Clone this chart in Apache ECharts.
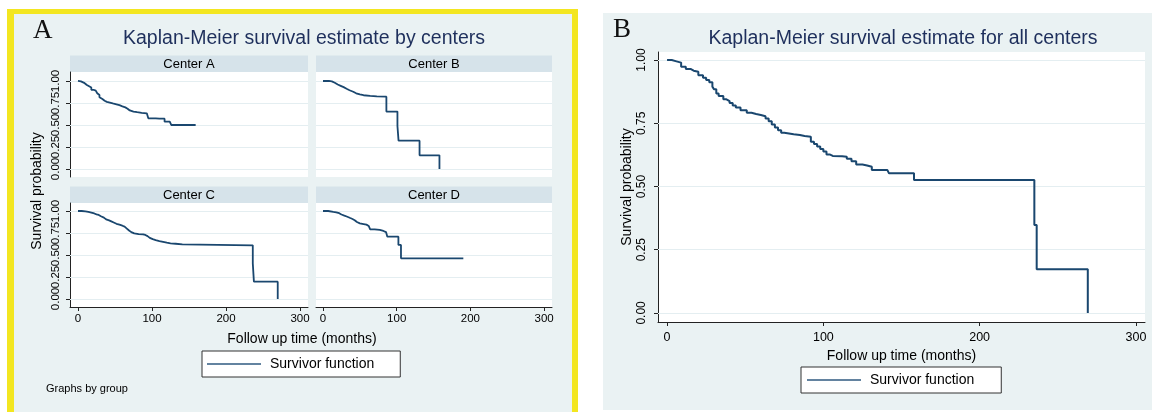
<!DOCTYPE html>
<html>
<head>
<meta charset="utf-8">
<title>Kaplan-Meier survival estimates</title>
<script src="https://cdn.jsdelivr.net/npm/echarts@6/dist/echarts.min.js"></script>
<style>
  html, body { margin: 0; padding: 0; background: #fff; }
  #chart { width: 1152px; height: 412px; }
</style>
</head>
<body>
<div id="chart"></div>
<script>
const centerNames = ['Center A', 'Center B', 'Center C', 'Center D']
const xTicks = [0, 100, 200, 300]
const yTicks = [0, 0.25, 0.5, 0.75, 1]

// survival estimates (time in months, S(t) after the step)
const timeA = [0, 2, 4, 6, 9, 12, 15, 18, 21, 24, 26, 27, 29, 31, 33, 36, 39, 43, 47, 52, 56, 60, 64, 67, 70, 75, 80, 86, 93, 95, 105, 110, 117, 124, 126, 159]
const survA = [1.0, 0.995, 0.985, 0.975, 0.955, 0.94, 0.925, 0.9, 0.89, 0.875, 0.86, 0.84, 0.815, 0.795, 0.775, 0.762, 0.754, 0.745, 0.735, 0.725, 0.712, 0.7, 0.685, 0.665, 0.652, 0.645, 0.638, 0.633, 0.63, 0.576, 0.573, 0.572, 0.538, 0.53, 0.5, 0.5]

const timeB = [0, 8, 12, 16, 20, 24, 28, 32, 36, 41, 45, 50, 55, 64, 73, 86, 101, 102.5, 131, 158]
const survB = [1.0, 0.995, 0.98, 0.96, 0.945, 0.93, 0.912, 0.895, 0.878, 0.86, 0.848, 0.838, 0.83, 0.825, 0.822, 0.652, 0.489, 0.322, 0.155, 0.0]

const timeC = [0, 5, 10, 14, 18, 22, 25, 28, 31, 35, 38, 42, 45, 49, 52, 56, 60, 63, 66, 69, 72, 76, 82, 88, 91, 94, 97, 101, 105, 110, 115, 120, 125, 132, 141, 236.2, 237.7, 269.9]
const survC = [1.0, 0.996, 0.99, 0.982, 0.972, 0.962, 0.955, 0.94, 0.925, 0.905, 0.893, 0.882, 0.867, 0.855, 0.845, 0.833, 0.822, 0.8, 0.778, 0.76, 0.745, 0.738, 0.735, 0.728, 0.715, 0.695, 0.68, 0.67, 0.659, 0.65, 0.64, 0.633, 0.628, 0.62, 0.61, 0.405, 0.197, 0.0]

const timeD = [0, 7, 14, 18, 22, 25, 29, 33, 37, 40, 43, 46, 50, 55, 59, 62, 64, 70, 77, 82, 85.5, 87.3, 102.3, 105.8, 190.4]
const survD = [1.0, 0.99, 0.985, 0.975, 0.96, 0.947, 0.935, 0.92, 0.909, 0.895, 0.875, 0.86, 0.852, 0.845, 0.83, 0.81, 0.792, 0.785, 0.773, 0.76, 0.746, 0.708, 0.614, 0.462, 0.462]

const timeAll = [0, 3, 6, 9, 12, 15, 17, 20, 23, 25, 27, 29, 30, 31.5, 33, 36, 38, 40, 42, 44, 47, 51, 54, 57, 60, 63, 65, 67, 69, 71, 73, 75, 78, 81, 85, 88, 92, 94, 96, 98, 100, 102, 104, 106, 112, 115, 118, 121, 125, 128, 131, 141, 142, 158, 235, 236.5, 269.2]
const survAll = [1.0, 0.995, 0.99, 0.974, 0.965, 0.958, 0.954, 0.94, 0.93, 0.921, 0.912, 0.895, 0.885, 0.868, 0.858, 0.845, 0.838, 0.83, 0.82, 0.812, 0.802, 0.792, 0.787, 0.783, 0.778, 0.769, 0.758, 0.745, 0.733, 0.722, 0.713, 0.71, 0.707, 0.704, 0.7, 0.697, 0.677, 0.668, 0.658, 0.648, 0.638, 0.627, 0.621, 0.62, 0.618, 0.61, 0.6, 0.587, 0.583, 0.578, 0.565, 0.563, 0.552, 0.526, 0.348, 0.173, 0.0]

const FONT = "'Liberation Sans', Arial, sans-serif"
const SERIF = "'Liberation Serif', 'Times New Roman', serif"
const NAVY = '#1a476f'
const TITLE = '#1e2f5c'
const BG = '#eaf2f3'
const BAND = '#d6e3ea'
const GRIDLINE = '#e4eef1'
const AXIS = '#222'

const pairs = (t, s) => t.map((v, i) => [v, s[i]])
const curves = [pairs(timeA, survA), pairs(timeB, survB), pairs(timeC, survC), pairs(timeD, survD), pairs(timeAll, survAll)]

// panel layout: four small multiples in A, one large plot in B
const panels = [
  { left: 70, top: 72, width: 238, height: 105, xMin: -10.8, xMax: 310.8, yMin: -0.091, yMax: 1.102, showX: false, showY: true },
  { left: 316, top: 72, width: 236, height: 105, xMin: -9.5, xMax: 310.7, yMin: -0.091, yMax: 1.102, showX: false, showY: false },
  { left: 70, top: 203, width: 238, height: 104, xMin: -10.8, xMax: 310.8, yMin: -0.091, yMax: 1.091, showX: true, showY: true },
  { left: 316, top: 203, width: 236, height: 104, xMin: -9.5, xMax: 310.7, yMin: -0.091, yMax: 1.091, showX: true, showY: false },
  { left: 658, top: 52, width: 487, height: 270, xMin: -5.8, xMax: 305.8, yMin: -0.036, yMax: 1.032, showX: true, showY: true, big: true }
]

const grid = panels.map(p => ({
  left: p.left, top: p.top, width: p.width, height: p.height,
  show: true, backgroundColor: '#fff', borderWidth: 0
}))

const xAxis = panels.map((p, i) => ({
  type: 'value', gridIndex: i, min: p.xMin, max: p.xMax, show: p.showX,
  axisLine: { show: true, onZero: false, lineStyle: { color: AXIS, width: 1 } },
  axisTick: { show: true, length: 4, customValues: xTicks, lineStyle: { color: AXIS } },
  axisLabel: {
    customValues: xTicks, interval: 0, color: '#000', fontFamily: FONT,
    fontSize: p.big ? 12.5 : 11.5, margin: p.big ? 9 : 6,
    showMinLabel: true, showMaxLabel: true, hideOverlap: false
  },
  splitLine: { show: false },
  name: p.big ? 'Follow up time (months)' : '',
  nameLocation: 'middle', nameGap: 21,
  nameTextStyle: { fontFamily: FONT, fontSize: 14, color: '#000' }
}))

const yLabel = (p, values) => ({
  customValues: values, interval: 0, rotate: 90, color: '#000', fontFamily: FONT,
  fontSize: p.big ? 12 : 11.5, margin: p.big ? 10 : 8,
  showMinLabel: true, showMaxLabel: true, hideOverlap: false,
  formatter: v => v.toFixed(2)
})

const yAxis = panels.map((p, i) => ({
  type: 'value', gridIndex: i, min: p.yMin, max: p.yMax, show: p.showY,
  axisLine: { show: true, onZero: false, lineStyle: { color: AXIS, width: 1 } },
  axisTick: { show: true, length: 4, customValues: yTicks, lineStyle: { color: AXIS } },
  axisLabel: yLabel(p, p.big ? yTicks : yTicks.filter((v, k) => k % 2 === 0)),
  splitLine: { show: false },
  name: p.big ? 'Survival probability' : '',
  nameLocation: 'middle', nameRotate: 90, nameGap: 24,
  nameTextStyle: { fontFamily: FONT, fontSize: 14, color: '#000' }
}))

// the small panels' labels collide, so the in-between ones sit on a twin axis
panels.forEach((p, i) => {
  if (!p.showY || p.big) return
  yAxis.push({
    type: 'value', gridIndex: i, min: p.yMin, max: p.yMax, position: 'left', offset: 0,
    axisLine: { show: false, onZero: false },
    axisTick: { show: false },
    axisLabel: yLabel(p, yTicks.filter((v, k) => k % 2 === 1)),
    splitLine: { show: false }
  })
})

const series = curves.map((data, i) => ({
  name: 'Survivor function',
  type: 'line',
  step: 'end',
  xAxisIndex: i,
  yAxisIndex: i,
  data,
  symbol: 'none',
  z: 3,
  itemStyle: { color: NAVY },
  lineStyle: { color: NAVY, width: i === 4 ? 2 : 1.8 },
  markLine: {
    silent: true, z: 1, symbol: 'none', animation: false,
    label: { show: false },
    lineStyle: { color: GRIDLINE, width: 1, type: 'solid' },
    emphasis: { disabled: true },
    data: yTicks.map(v => ({ yAxis: v }))
  }
}))

const legendBase = {
  data: ['Survivor function'],
  orient: 'horizontal',
  icon: 'rect',
  itemWidth: 54,
  itemHeight: 1.3,
  selectedMode: false,
  borderColor: '#333',
  borderWidth: 1,
  backgroundColor: '#fff',
  itemStyle: { color: '#2f5a80' },
  textStyle: { fontFamily: FONT, fontSize: 14, color: '#000', padding: [0, 0, 0, 4] }
}

const text = (x, y, str, size, extra) => ({
  type: 'text', x, y, silent: true,
  style: Object.assign({ text: str, fontFamily: FONT, fontSize: size, fill: '#000', align: 'center', verticalAlign: 'middle' }, extra)
})

const bands = panels.slice(0, 4).flatMap((p, i) => [
  { type: 'rect', silent: true, shape: { x: p.left, y: p.top - 16.5, width: p.width, height: 16.5 }, style: { fill: BAND } },
  text(p.left + p.width / 2, p.top - 8, centerNames[i], 13)
])

const graphic = [
  { type: 'rect', silent: true, z: -10, shape: { x: 7, y: 9, width: 571, height: 420 }, style: { fill: '#f3e620' } },
  { type: 'rect', silent: true, z: -9, shape: { x: 14, y: 14, width: 558, height: 410 }, style: { fill: BG } },
  { type: 'rect', silent: true, z: -9, shape: { x: 603, y: 13, width: 549, height: 397 }, style: { fill: BG } },
  ...bands,
  text(304, 39, 'Kaplan-Meier survival estimate by centers', 19.5, { fill: TITLE }),
  text(903, 39, 'Kaplan-Meier survival estimate for all centers', 19.5, { fill: TITLE }),
  text(33, 31, 'A', 27, { fontFamily: SERIF, align: 'left', fill: '#111' }),
  text(613, 30, 'B', 27, { fontFamily: SERIF, align: 'left', fill: '#111' }),
  Object.assign(text(37, 191, 'Survival probability', 14), { rotation: Math.PI / 2 }),
  text(302, 339, 'Follow up time (months)', 14),
  text(46, 389, 'Graphs by group', 11, { align: 'left' })
]

const chart = echarts.init(document.getElementById('chart'), null, { renderer: 'canvas' })
chart.setOption({
  animation: false,
  grid,
  xAxis,
  yAxis,
  series,
  legend: [
    Object.assign({ left: 202, top: 351, padding: [6, 26, 6, 5] }, legendBase),
    Object.assign({ left: 801, top: 367, padding: [6, 27, 6, 6] }, legendBase)
  ],
  graphic
})
</script>
</body>
</html>
